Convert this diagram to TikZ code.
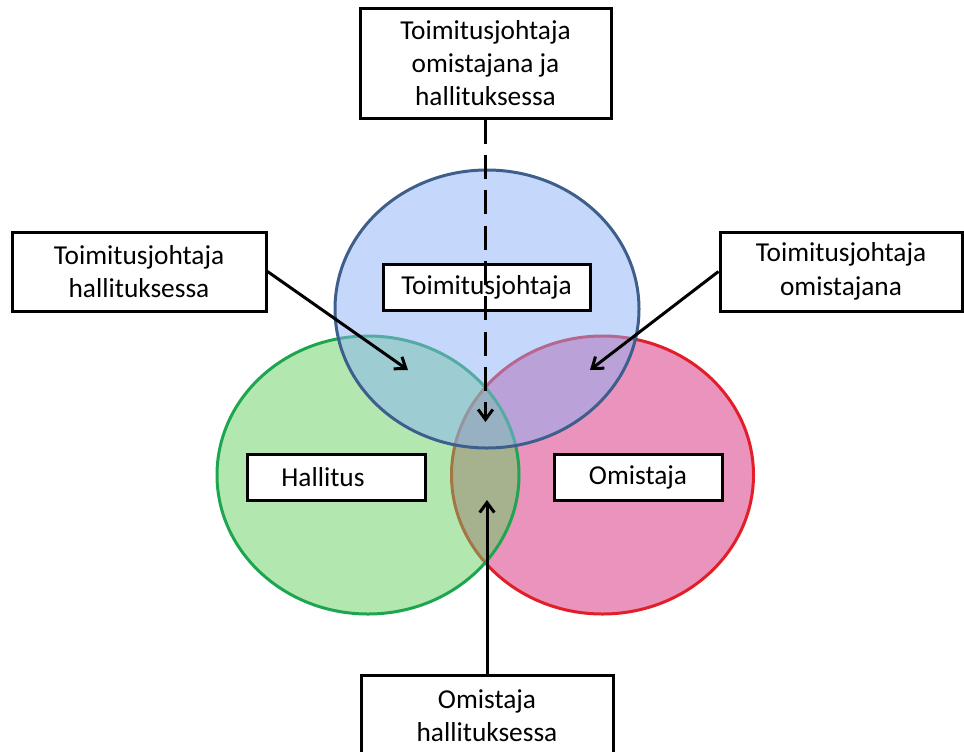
\documentclass[tikz,border=0pt]{standalone}
\usepackage{fontspec}
\setmainfont{Carlito}
\usetikzlibrary{arrows.meta}
\definecolor{bluefill}{RGB}{139,177,247}
\definecolor{greenfill}{RGB}{101,209,97}
\definecolor{redfill}{RGB}{211,39,123}
\definecolor{blueline}{RGB}{62,94,140}
\definecolor{greenline}{RGB}{30,165,80}
\definecolor{redline}{RGB}{226,30,40}
\tikzset{
  lbl/.style={draw=black, line width=2.25pt, fill=white, align=center,
    font=\fontsize{20.5pt}{25pt}\selectfont, inner sep=0pt},
  setshape/.style={line width=2.25pt, fill opacity=0.5, draw opacity=1},
  conn/.style={line width=2.25pt, -{Straight Barb[length=7.5pt,width=11pt,line width=2.25pt]}},
}
\begin{document}
\begin{tikzpicture}[x=0.75pt,y=-0.75pt]
\useasboundingbox (0,0) rectangle (964,751);
\clip (0,0) rectangle (964,751);
% sets
\draw[setshape, draw=redline, fill=redfill] (602.5,475) ellipse [x radius=151, y radius=139];
\draw[setshape, draw=greenline, fill=greenfill] (368,475) ellipse [x radius=151, y radius=139];
\draw[setshape, draw=blueline, fill=bluefill] (487,309) ellipse [x radius=152, y radius=139];
% labels
\node[lbl, minimum width=188.25pt, minimum height=82.5pt] (top) at (485.5,63) {Toimitusjohtaja\\omistajana ja\\hallituksessa};
\node[lbl, minimum width=190.5pt, minimum height=59.25pt] (left) at (139,271.5) {Toimitusjohtaja\\hallituksessa};
\node[lbl, minimum width=181.5pt, minimum height=59.25pt] (right) at (841,271.5) {Toimitusjohtaja\\omistajana};
\node[lbl, minimum width=155.25pt, minimum height=34.5pt] (tj) at (486.5,287) {Toimitusjohtaja};
\node[lbl, minimum width=133.5pt, minimum height=34.5pt] (hal) at (336,477) {\hspace*{-19.5pt}Hallitus};
\node[lbl, minimum width=126pt, minimum height=34.5pt] (om) at (638,477) {Omistaja};
\node[lbl, minimum width=189pt, minimum height=61.5pt] (bot) at (487,716) {Omistaja\\hallituksessa};
% arrow targets
\coordinate (tgl) at (408,370);
\coordinate (tgr) at (590,370);
\coordinate (tgc) at (487,422);
\coordinate (tgb) at (487,500);
% connectors
\draw[conn, dash pattern=on 18pt off 8.5pt] (top.south) -- (top.south |- tgc);
\draw[conn] (left.east) -- (tgl);
\draw[conn] (right.west) -- (tgr);
\draw[conn] (bot.north) -- (bot.north |- tgb);
\end{tikzpicture}
\end{document}
